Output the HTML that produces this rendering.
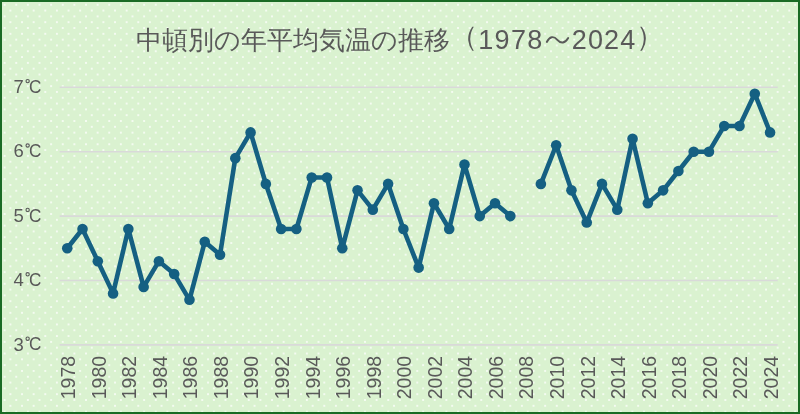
<!DOCTYPE html>
<html><head><meta charset="utf-8"><style>
html,body{margin:0;padding:0;width:800px;height:414px;overflow:hidden;}
body{font-family:"Liberation Sans",sans-serif;}
.wrap{position:absolute;left:0;top:0;width:796px;height:410px;border:2px solid #196B24;background-color:#DAF2D0;
background-image:radial-gradient(circle at 50% 50%, rgba(255,255,255,0.9) 0.5px, rgba(255,255,255,0) 1.35px),radial-gradient(circle at 50% 50%, rgba(255,255,255,0.9) 0.5px, rgba(255,255,255,0) 1.35px);
background-size:11.63px 11.63px;background-position:-3.2px -3.05px, 2.6px 2.75px;}
svg{position:absolute;left:0;top:0;will-change:transform;}
.title{position:absolute;left:0;top:0;width:800px;text-align:center;}
</style></head><body>
<div class="wrap"></div>
<svg width="800" height="414" viewBox="0 0 800 414">
<g stroke="#D9D9D9" stroke-width="1.6"><line x1="59.6" x2="777.7" y1="87.30" y2="87.30"/><line x1="59.6" x2="777.7" y1="151.70" y2="151.70"/><line x1="59.6" x2="777.7" y1="216.10" y2="216.10"/><line x1="59.6" x2="777.7" y1="280.50" y2="280.50"/><line x1="59.6" x2="777.7" y1="344.90" y2="344.90"/></g>
<g fill="#595959" font-family="Liberation Sans, sans-serif" font-size="18.5px"><text x="13.4" y="92.90">7</text><text x="28.9" y="92.80" textLength="12.4" lengthAdjust="spacingAndGlyphs">C</text><circle cx="27.65" cy="81.10" r="1.65" fill="none" stroke="#595959" stroke-width="1.1"/><text x="13.4" y="157.30">6</text><text x="28.9" y="157.20" textLength="12.4" lengthAdjust="spacingAndGlyphs">C</text><circle cx="27.65" cy="145.50" r="1.65" fill="none" stroke="#595959" stroke-width="1.1"/><text x="13.4" y="221.70">5</text><text x="28.9" y="221.60" textLength="12.4" lengthAdjust="spacingAndGlyphs">C</text><circle cx="27.65" cy="209.90" r="1.65" fill="none" stroke="#595959" stroke-width="1.1"/><text x="13.4" y="286.10">4</text><text x="28.9" y="286.00" textLength="12.4" lengthAdjust="spacingAndGlyphs">C</text><circle cx="27.65" cy="274.30" r="1.65" fill="none" stroke="#595959" stroke-width="1.1"/><text x="13.4" y="350.50">3</text><text x="28.9" y="350.40" textLength="12.4" lengthAdjust="spacingAndGlyphs">C</text><circle cx="27.65" cy="338.70" r="1.65" fill="none" stroke="#595959" stroke-width="1.1"/></g>
<g fill="#595959" font-family="Liberation Sans, sans-serif" font-size="19.5px" text-anchor="end"><text transform="translate(75.04,355.9) rotate(-90)" x="0" y="0">1978</text><text transform="translate(105.60,355.9) rotate(-90)" x="0" y="0">1980</text><text transform="translate(136.15,355.9) rotate(-90)" x="0" y="0">1982</text><text transform="translate(166.71,355.9) rotate(-90)" x="0" y="0">1984</text><text transform="translate(197.27,355.9) rotate(-90)" x="0" y="0">1986</text><text transform="translate(227.83,355.9) rotate(-90)" x="0" y="0">1988</text><text transform="translate(258.38,355.9) rotate(-90)" x="0" y="0">1990</text><text transform="translate(288.94,355.9) rotate(-90)" x="0" y="0">1992</text><text transform="translate(319.50,355.9) rotate(-90)" x="0" y="0">1994</text><text transform="translate(350.06,355.9) rotate(-90)" x="0" y="0">1996</text><text transform="translate(380.61,355.9) rotate(-90)" x="0" y="0">1998</text><text transform="translate(411.17,355.9) rotate(-90)" x="0" y="0">2000</text><text transform="translate(441.73,355.9) rotate(-90)" x="0" y="0">2002</text><text transform="translate(472.29,355.9) rotate(-90)" x="0" y="0">2004</text><text transform="translate(502.84,355.9) rotate(-90)" x="0" y="0">2006</text><text transform="translate(533.40,355.9) rotate(-90)" x="0" y="0">2008</text><text transform="translate(563.96,355.9) rotate(-90)" x="0" y="0">2010</text><text transform="translate(594.52,355.9) rotate(-90)" x="0" y="0">2012</text><text transform="translate(625.07,355.9) rotate(-90)" x="0" y="0">2014</text><text transform="translate(655.63,355.9) rotate(-90)" x="0" y="0">2016</text><text transform="translate(686.19,355.9) rotate(-90)" x="0" y="0">2018</text><text transform="translate(716.75,355.9) rotate(-90)" x="0" y="0">2020</text><text transform="translate(747.30,355.9) rotate(-90)" x="0" y="0">2022</text><text transform="translate(777.86,355.9) rotate(-90)" x="0" y="0">2024</text></g>
<g fill="none" stroke="#156082" stroke-width="4.6" stroke-linejoin="round" stroke-linecap="round"><polyline points="67.24,248.30 82.52,228.98 97.80,261.18 113.08,293.38 128.35,228.98 143.63,286.94 158.91,261.18 174.19,274.06 189.47,299.82 204.75,241.86 220.03,254.74 235.31,158.14 250.58,132.38 265.86,183.90 281.14,228.98 296.42,228.98 311.70,177.46 326.98,177.46 342.26,248.30 357.54,190.34 372.81,209.66 388.09,183.90 403.37,228.98 418.65,267.62 433.93,203.22 449.21,228.98 464.49,164.58 479.76,216.10 495.04,203.22 510.32,216.10"/><polyline points="540.88,183.90 556.16,145.26 571.44,190.34 586.72,222.54 601.99,183.90 617.27,209.66 632.55,138.82 647.83,203.22 663.11,190.34 678.39,171.02 693.67,151.70 708.95,151.70 724.22,125.94 739.50,125.94 754.78,93.74 770.06,132.38"/></g>
<g fill="#156082"><circle cx="67.24" cy="248.30" r="5.3"/><circle cx="82.52" cy="228.98" r="5.3"/><circle cx="97.80" cy="261.18" r="5.3"/><circle cx="113.08" cy="293.38" r="5.3"/><circle cx="128.35" cy="228.98" r="5.3"/><circle cx="143.63" cy="286.94" r="5.3"/><circle cx="158.91" cy="261.18" r="5.3"/><circle cx="174.19" cy="274.06" r="5.3"/><circle cx="189.47" cy="299.82" r="5.3"/><circle cx="204.75" cy="241.86" r="5.3"/><circle cx="220.03" cy="254.74" r="5.3"/><circle cx="235.31" cy="158.14" r="5.3"/><circle cx="250.58" cy="132.38" r="5.3"/><circle cx="265.86" cy="183.90" r="5.3"/><circle cx="281.14" cy="228.98" r="5.3"/><circle cx="296.42" cy="228.98" r="5.3"/><circle cx="311.70" cy="177.46" r="5.3"/><circle cx="326.98" cy="177.46" r="5.3"/><circle cx="342.26" cy="248.30" r="5.3"/><circle cx="357.54" cy="190.34" r="5.3"/><circle cx="372.81" cy="209.66" r="5.3"/><circle cx="388.09" cy="183.90" r="5.3"/><circle cx="403.37" cy="228.98" r="5.3"/><circle cx="418.65" cy="267.62" r="5.3"/><circle cx="433.93" cy="203.22" r="5.3"/><circle cx="449.21" cy="228.98" r="5.3"/><circle cx="464.49" cy="164.58" r="5.3"/><circle cx="479.76" cy="216.10" r="5.3"/><circle cx="495.04" cy="203.22" r="5.3"/><circle cx="510.32" cy="216.10" r="5.3"/><circle cx="540.88" cy="183.90" r="5.3"/><circle cx="556.16" cy="145.26" r="5.3"/><circle cx="571.44" cy="190.34" r="5.3"/><circle cx="586.72" cy="222.54" r="5.3"/><circle cx="601.99" cy="183.90" r="5.3"/><circle cx="617.27" cy="209.66" r="5.3"/><circle cx="632.55" cy="138.82" r="5.3"/><circle cx="647.83" cy="203.22" r="5.3"/><circle cx="663.11" cy="190.34" r="5.3"/><circle cx="678.39" cy="171.02" r="5.3"/><circle cx="693.67" cy="151.70" r="5.3"/><circle cx="708.95" cy="151.70" r="5.3"/><circle cx="724.22" cy="125.94" r="5.3"/><circle cx="739.50" cy="125.94" r="5.3"/><circle cx="754.78" cy="93.74" r="5.3"/><circle cx="770.06" cy="132.38" r="5.3"/></g>
<g fill="#595959" font-family="Liberation Sans, sans-serif"><text x="135.5" y="48.6" font-size="26px">中頓別の年平均気温の推移</text><text x="449.5" y="46" font-size="28px">（</text><text x="478.3" y="49.1" font-size="27px" letter-spacing="1.3px">1978</text><path d="M546.8,42 C549.6,36.4 553.6,35.6 557.3,39.8 C561,44 565,43.4 568.2,38" fill="none" stroke="#595959" stroke-width="1.9" stroke-linecap="round"/><text x="571.8" y="49.1" font-size="27px" letter-spacing="1.1px">2024</text><text x="636.4" y="45.6" font-size="28px">）</text></g>
</svg>
</body></html>
